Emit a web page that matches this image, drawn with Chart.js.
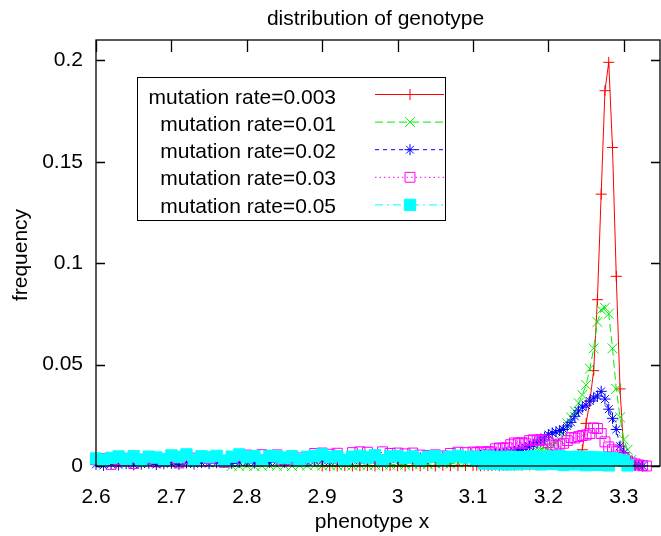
<!DOCTYPE html>
<html>
<head>
<meta charset="utf-8">
<script src="https://cdn.jsdelivr.net/npm/chart.js@4"></script>
<style>
  html, body { margin: 0; padding: 0; background: #fff; }
  canvas { display: block; }
</style>
</head>
<body>
<canvas id="genoChart" width="661" height="536"></canvas>
<script>
// phenotype x (bin positions), finer near the peak
const phenotypeX = [
  2.60, 2.61, 2.62, 2.63, 2.64, 2.65, 2.66, 2.67, 2.68, 2.69,
  2.70, 2.71, 2.72, 2.73, 2.74, 2.75, 2.76, 2.77, 2.78, 2.79,
  2.80, 2.81, 2.82, 2.83, 2.84, 2.85, 2.86, 2.87, 2.88, 2.89,
  2.90, 2.91, 2.92, 2.93, 2.94, 2.95, 2.96, 2.97, 2.98, 2.99,
  3.00, 3.01, 3.02, 3.03, 3.04, 3.05, 3.06, 3.07, 3.08, 3.09,
  3.100, 3.105, 3.110, 3.115, 3.120, 3.125, 3.130, 3.135, 3.140, 3.145,
  3.150, 3.155, 3.160, 3.165, 3.170, 3.175, 3.180, 3.185, 3.190, 3.195,
  3.200, 3.205, 3.210, 3.215, 3.220, 3.225, 3.230, 3.235, 3.240, 3.245,
  3.250, 3.255, 3.260, 3.265, 3.270, 3.275, 3.280, 3.285, 3.290, 3.295,
  3.300, 3.305, 3.310, 3.315, 3.320, 3.325, 3.330
];

const rate003 = [
  null, null, null, null, null, null, null, null, null, null,
  null, null, null, null, null, null, null, null, null, null,
  null, null, null, null, null, null, null, null, null, null,
  0, 0.0001, 0, 0.0002, 0, 0.0001, 0.0002, 0, 0.0001, 0.0002,
  0.0001, 0, 0.0002, 0.0001, 0.0002, 0, 0.0003, 0.0001, 0.0002, 0.0003,
  0.0002, 0.0003, 0.0001, 0.0004, 0.0002, 0.0003, 0.0005, 0.0002, 0.0004, 0.0003,
  0.0005, 0.0003, 0.0006, 0.0004, 0.0007, 0.0005, 0.0008, 0.0006, 0.0010, 0.0012,
  0.0012, 0.0015, 0.0014, 0.0018, 0.0020, 0.0024, 0.0027, 0.0032, 0.0050, 0.0080,
  0.0210, 0.0320, 0.0470, 0.0820, 0.1340, 0.1850, 0.1990, 0.1570, 0.0935, 0.0380,
  0.0065, 0.0010, 0.0002, null, null, null, null
];

const rate01 = [
  null, null, null, null, null, null, null, null, null, null,
  null, null, null, null, null, null, null, null, 0.0001, 0,
  0.0002, 0, 0.0001, 0.0003, 0.0001, 0.0002, 0, 0.0003, 0.0002, 0.0004,
  0.0002, 0.0004, 0.0003, 0.0005, 0.0002, 0.0006, 0.0004, 0.0005, 0.0007, 0.0006,
  0.0008, 0.0006, 0.0009, 0.0011, 0.0008, 0.0012, 0.0014, 0.0011, 0.0016, 0.0018,
  0.0020, 0.0019, 0.0023, 0.0026, 0.0024, 0.0028, 0.0031, 0.0029, 0.0034, 0.0037,
  0.0040, 0.0043, 0.0047, 0.0052, 0.0057, 0.0062, 0.0068, 0.0075, 0.0083, 0.0090,
  0.0096, 0.0105, 0.0115, 0.0130, 0.0170, 0.0210, 0.0240, 0.0270, 0.0310, 0.0350,
  0.0400, 0.0480, 0.0580, 0.0710, 0.0770, 0.0780, 0.0750, 0.0580, 0.0380, 0.0240,
  0.0130, 0.0080, 0.0030, 0.0010, 0.0002, null, null
];

const rate02 = [
  0.0008, 0.0003, 0.0010, 0.0005, 0.0012, 0.0006, 0.0009, 0.0014, 0.0007, 0.0011,
  0.0013, 0.0008, 0.0015, 0.0010, 0.0017, 0.0012, 0.0016, 0.0019, 0.0013, 0.0018,
  0.0020, 0.0015, 0.0022, 0.0018, 0.0024, 0.0019, 0.0023, 0.0026, 0.0021, 0.0025,
  0.0027, 0.0023, 0.0029, 0.0026, 0.0031, 0.0028, 0.0030, 0.0033, 0.0029, 0.0034,
  0.0036, 0.0033, 0.0038, 0.0040, 0.0037, 0.0042, 0.0044, 0.0041, 0.0046, 0.0048,
  0.0050, 0.0049, 0.0053, 0.0056, 0.0054, 0.0058, 0.0061, 0.0059, 0.0064, 0.0067,
  0.0068, 0.0072, 0.0078, 0.0083, 0.0090, 0.0097, 0.0105, 0.0115, 0.0128, 0.0142,
  0.0155, 0.0163, 0.0168, 0.0175, 0.0180, 0.0197, 0.0215, 0.0245, 0.0272, 0.0290,
  0.0300, 0.0320, 0.0335, 0.0345, 0.0368, 0.0330, 0.0280, 0.0235, 0.0180, 0.0098,
  0.0065, 0.0030, 0.0008, 0.0002, 0.0001, 0, null
];

const rate03 = [
  0.0030, 0.0036, 0.0008, 0.0032, 0.0038, 0.0012, 0.0034, 0.0037, 0.0020, 0.0035,
  0.0038, 0.0015, 0.0036, 0.0039, 0.0025, 0.0037, 0.0040, 0.0018, 0.0042, 0.0046,
  0.0054, 0.0049, 0.0056, 0.0052, 0.0055, 0.0030, 0.0045, 0.0040, 0.0046, 0.0062,
  0.0064, 0.0058, 0.0063, 0.0030, 0.0066, 0.0070, 0.0068, 0.0045, 0.0070, 0.0062,
  0.0064, 0.0060, 0.0064, 0.0054, 0.0052, 0.0055, 0.0050, 0.0062, 0.0068, 0.0066,
  0.0069, 0.0066, 0.0070, 0.0068, 0.0071, 0.0069, 0.0085, 0.0089, 0.0087, 0.0090,
  0.0105, 0.0114, 0.0112, 0.0115, 0.0110, 0.0125, 0.0129, 0.0127, 0.0130, 0.0128,
  0.0115, 0.0104, 0.0100, 0.0108, 0.0112, 0.0125, 0.0140, 0.0138, 0.0145, 0.0150,
  0.0153, 0.0160, 0.0188, 0.0185, 0.0160, 0.0119, 0.0094, 0.0080, 0.0070, 0.0050,
  0.0040, 0.0025, 0.0015, 0.0010, 0.0005, 0.0002, 0
];

const rate05 = [
  0.0037, 0.0030, 0.0040, 0.0047, 0.0035, 0.0048, 0.0028, 0.0046, 0.0042, 0.0032,
  0.0052, 0.0045, 0.0057, 0.0030, 0.0048, 0.0044, 0.0050, 0.0027, 0.0046, 0.0057,
  0.0043, 0.0049, 0.0030, 0.0050, 0.0047, 0.0041, 0.0048, 0.0029, 0.0045, 0.0050,
  0.0057, 0.0044, 0.0048, 0.0031, 0.0046, 0.0050, 0.0042, 0.0053, 0.0028, 0.0047,
  0.0049, 0.0040, 0.0047, 0.0030, 0.0045, 0.0048, 0.0033, 0.0046, 0.0050, 0.0042,
  0.0046, 0.0032, 0.0044, 0.0012, 0.0047, 0.0038, 0.0010, 0.0045, 0.0041, 0.0008,
  0.0046, 0.0035, 0.0009, 0.0044, 0.0040, 0.0012, 0.0047, 0.0030, 0.0008, 0.0045,
  0.0046, 0.0010, 0.0043, 0.0049, 0.0005, 0.0044, 0.0040, 0.0008, 0.0046, 0.0042,
  0.0004, 0.0044, 0.0039, 0.0006, 0.0042, 0.0036, 0.0003, 0.0038, 0.0034, 0.0030,
  0.0025, 0.0003, null, null, null, null, null
];

const seriesNames = [
  'mutation rate=0.003',
  'mutation rate=0.01',
  'mutation rate=0.02',
  'mutation rate=0.03',
  'mutation rate=0.05'
];
const seriesValues = [rate003, rate01, rate02, rate03, rate05];

const xTicks = [2.6, 2.7, 2.8, 2.9, 3, 3.1, 3.2, 3.3];
const yTicks = [0, 0.05, 0.1, 0.15, 0.2];

// gnuplot-like styles
const FONT = '"Liberation Sans", Arial, sans-serif';
const styles = [
  { color: '#ff0000', dash: [], point: 'cross', radius: 5.5, fill: 'transparent' },
  { color: '#00ee00', dash: [8, 4], point: 'crossRot', radius: 7, fill: 'transparent' },
  { color: '#0000ff', dash: [4, 4], point: 'star', radius: 5.5, fill: 'transparent' },
  { color: '#ff00ff', dash: [1.5, 3], point: 'rect', radius: 7, fill: 'transparent' },
  { color: '#00ffff', dash: [8, 4, 2, 4], point: 'rect', radius: 8, fill: '#00ffff' }
];

const datasets = seriesValues.map(function(vals, i) {
  const st = styles[i];
  return {
    label: seriesNames[i],
    data: phenotypeX.map(function(x, j) { return { x: x, y: vals[j] }; }),
    borderColor: st.color,
    borderWidth: 1,
    borderDash: st.dash,
    pointStyle: st.point,
    pointRadius: st.radius,
    pointBorderColor: st.color,
    pointBackgroundColor: st.fill,
    pointBorderWidth: 1,
    tension: 0,
    spanGaps: false,
    clip: false,
    order: seriesValues.length - 1 - i
  };
});

const framePlugin = {
  id: 'frame',
  beforeDatasetsDraw(chart) {
    // tics sit behind the data, like gnuplot's
    const ctx = chart.ctx;
    const a = chart.chartArea;
    const xs = chart.scales.x, ys = chart.scales.y;
    ctx.save();
    ctx.strokeStyle = '#000';
    ctx.lineWidth = 1.3;
    ctx.beginPath();
    xTicks.forEach(function(v) {
      const px = Math.round(xs.getPixelForValue(v)) + 0.5;
      ctx.moveTo(px, a.bottom); ctx.lineTo(px, a.bottom - 12);
      ctx.moveTo(px, a.top); ctx.lineTo(px, a.top + 12);
    });
    yTicks.forEach(function(v) {
      const py = Math.round(ys.getPixelForValue(v)) + 0.5;
      ctx.moveTo(a.left, py); ctx.lineTo(a.left + 9, py);
      ctx.moveTo(a.right, py); ctx.lineTo(a.right - 9, py);
    });
    ctx.stroke();
    ctx.restore();
  },
  afterDatasetsDraw(chart) {
    const ctx = chart.ctx;
    const a = chart.chartArea;
    ctx.save();
    ctx.strokeStyle = '#000';
    ctx.lineWidth = 1.3;
    ctx.setLineDash([]);
    ctx.strokeRect(a.left, a.top, a.right - a.left, a.bottom - a.top);
    ctx.restore();
  },
  afterDraw(chart) {
    const ctx = chart.ctx;
    ctx.save();
    ctx.fillStyle = '#000';
    ctx.font = '21px ' + FONT;
    ctx.textBaseline = 'alphabetic';
    ctx.textAlign = 'center';
    ctx.fillText('distribution of genotype', 375.5, 25);
    ctx.fillText('phenotype x', 372, 528);
    ctx.save();
    ctx.translate(27, 255);
    ctx.rotate(-Math.PI / 2);
    ctx.fillText('frequency', 0, 0);
    ctx.restore();

    // key box
    ctx.strokeStyle = '#000';
    ctx.lineWidth = 1;
    ctx.strokeRect(137.5, 77.5, 308, 143);
    ctx.textAlign = 'right';
    seriesNames.forEach(function(name, i) {
      const st = styles[i];
      ctx.fillStyle = '#000';
      ctx.fillText(name, 336, 103.5 + i * 27.3);
      const ly = 94.5 + i * 27.6;
      ctx.strokeStyle = st.color;
      ctx.lineWidth = 1;
      ctx.setLineDash(st.dash);
      ctx.beginPath();
      ctx.moveTo(375, ly); ctx.lineTo(444, ly);
      ctx.stroke();
      ctx.setLineDash([]);
      ctx.fillStyle = st.fill;
      Chart.helpers.drawPoint(ctx, { pointStyle: st.point, radius: st.radius, rotation: 0, borderWidth: 1 }, 410, ly);
    });
    ctx.restore();
  }
};

new Chart(document.getElementById('genoChart'), {
  type: 'line',
  data: { datasets: datasets },
  options: {
    responsive: false,
    animation: false,
    devicePixelRatio: 1,
    layout: { autoPadding: false, padding: { top: 40, right: 1, bottom: 0, left: 0 } },
    plugins: {
      legend: { display: false },
      tooltip: { enabled: false },
      title: { display: false }
    },
    scales: {
      x: {
        type: 'linear',
        min: 2.6,
        max: 3.348,
        grid: { display: false, drawTicks: false },
        border: { display: false },
        afterBuildTicks: function(scale) { scale.ticks = xTicks.map(function(v) { return { value: v }; }); },
        afterFit: function(scale) {
          scale.height = 70;
          scale.paddingLeft = 0;
          scale.paddingRight = 0;
        },
        ticks: {
          color: '#000',
          font: { family: FONT, size: 21 },
          padding: 19,
          maxRotation: 0,
          autoSkip: false,
          callback: function(v) { return String(v); }
        }
      },
      y: {
        type: 'linear',
        min: 0,
        max: 0.21,
        grid: { display: false, drawTicks: false },
        border: { display: false },
        afterBuildTicks: function(scale) { scale.ticks = yTicks.map(function(v) { return { value: v }; }); },
        afterFit: function(scale) {
          scale.width = 96;
          scale.paddingTop = 0;
          scale.paddingBottom = 0;
        },
        ticks: {
          color: '#000',
          font: { family: FONT, size: 21 },
          padding: 13,
          autoSkip: false,
          callback: function(v) { return String(v); }
        }
      }
    }
  },
  plugins: [framePlugin]
});
</script>
</body>
</html>
